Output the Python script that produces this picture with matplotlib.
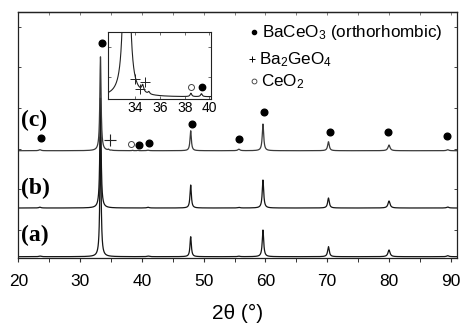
import numpy as np
import matplotlib
matplotlib.use("Agg")
import matplotlib.pyplot as plt

plt.rcParams['font.family'] = ['Liberation Sans', 'DejaVu Sans']
plt.rcParams['mathtext.default'] = 'regular'

# ---- data (peak positions in 2theta, intensities in arbitrary units) ----
peak_pos = [23.5, 33.3, 41.0, 47.9, 55.7, 59.6, 70.2, 80.0, 89.5]
peak_hwhm = [0.20, 0.12, 0.20, 0.13, 0.20, 0.14, 0.16, 0.20, 0.20]
heights_a = [0.6, 120.0, 0.6, 20.0, 0.5, 26.7, 10.0, 6.7, 1.0]
heights_b = [0.8, 110.0, 0.7, 23.0, 0.6, 28.0, 10.0, 7.0, 1.0]
heights_c = [1.0, 94.0, 0.5, 20.0, 1.5, 26.7, 9.0, 5.7, 1.0]
# minor impurity peaks seen only in (c)
imp_pos = [34.6, 35.1, 38.5, 39.35]
imp_hwhm = [0.10, 0.08, 0.08, 0.08]
imp_heights_c = [0.9, 0.3, 0.45, 0.4]
offsets = {'a': 1.3, 'b': 50.0, 'c': 107.3}

# phase markers on curve (c)
baceo3_x = [23.6, 33.6, 39.5, 41.2, 48.1, 55.8, 59.7, 70.4, 79.9, 89.4]
baceo3_y = [120.3, 215.3, 113.3, 115.3, 134.3, 119.3, 146.3, 126.3, 126.3, 122.3]
ba2geo4_x = [34.8]
ba2geo4_y = [118.0]
ceo2_x = [38.3]
ceo2_y = [114.0]
# inset markers
ins_plus_x = [33.96, 34.39, 34.77]
ins_plus_y = [109.7, 108.4, 109.3]
ins_ceo2_x = [38.49]
ins_ceo2_y = [108.6]
ins_baceo3_x = [39.42]
ins_baceo3_y = [108.6]


def pattern(x, pos, hw, hts):
    y = np.zeros_like(x)
    for p, g, h in zip(pos, hw, hts):
        y += h * g**2 / ((x - p)**2 + g**2)
    return y


x = np.linspace(20, 91, 8000)
ya = offsets['a'] + pattern(x, peak_pos, peak_hwhm, heights_a)
yb = offsets['b'] + pattern(x, peak_pos, peak_hwhm, heights_b)
yc = offsets['c'] + pattern(x, peak_pos, peak_hwhm, heights_c) + \
    pattern(x, imp_pos, imp_hwhm, imp_heights_c)

fig = plt.figure(figsize=(4.63, 3.26), dpi=100)
ax = fig.add_axes([0.0395, 0.2086, 0.9475, 0.7544])

ax.plot(x, ya, color='#151515', lw=0.9)
ax.plot(x, yb, color='#151515', lw=0.9)
ax.plot(x, yc, color='#3a3a3a', lw=0.9)

ax.plot(baceo3_x, baceo3_y, 'o', color='black', ms=4.8, ls='none')
ax.plot(ba2geo4_x, ba2geo4_y, '+', color='#222222', ms=8, mew=0.8, ls='none')
ax.plot(ceo2_x, ceo2_y, 'o', mfc='white', mec='#444444', ms=4.3, mew=0.7, ls='none')

ax.set_xlim(20, 91)
ax.set_ylim(0, 246)
ax.set_xticks(np.arange(20, 91, 10))
ax.set_xticks(np.arange(25, 91, 10), minor=True)
ax.set_yticks([28, 68.7, 109.4, 150.1, 190.8, 231.5])
ax.set_yticklabels([])
ax.tick_params(axis='x', which='major', direction='out', length=3.2, width=0.8,
               labelsize=12.5, pad=8, colors='#333333', labelcolor='black')
ax.tick_params(axis='x', which='minor', direction='out', length=2.6, width=0.7,
               colors='#333333')
ax.tick_params(axis='y', which='major', direction='in', length=2.2, width=0.7,
               left=True, right=True, colors='#444444')

top = ax.secondary_xaxis('top')
top.set_xticks(np.arange(20, 91, 10))
top.set_xticks(np.arange(25, 91, 10), minor=True)
top.set_xticklabels([])
top.tick_params(which='both', direction='in', length=1.8, width=0.6, colors='#666666')
top.spines['top'].set_linewidth(0.9)
top.spines['top'].set_color('#222222')

for s in ax.spines.values():
    s.set_linewidth(0.9)
    s.set_color('#222222')
ax.set_xlabel('2θ (°)', fontsize=15, labelpad=11)

for lab, yy in [('(c)', 137.3), ('(b)', 69.7), ('(a)', 23.0)]:
    ax.text(20.5, yy, lab, fontsize=17, fontweight='bold',
            family=['Liberation Serif', 'DejaVu Serif'], ha='left', va='center')

# legend-like annotations (axes fraction coordinates)
ax.plot([0.537], [0.917], 'o', color='black', ms=3.0, transform=ax.transAxes)
ax.text(0.555, 0.917, 'BaCeO$_3$ (orthorhombic)', transform=ax.transAxes,
        fontsize=12.3, va='center', ha='left')
ax.plot([0.533], [0.808], '+', color='black', ms=5, mew=0.7, transform=ax.transAxes)
ax.text(0.549, 0.808, 'Ba$_2$GeO$_4$', transform=ax.transAxes,
        fontsize=12.3, va='center', ha='left')
ax.plot([0.537], [0.718], 'o', mfc='white', mec='#333333', ms=3.5, mew=0.6,
        transform=ax.transAxes)
ax.text(0.553, 0.718, 'CeO$_2$', transform=ax.transAxes,
        fontsize=12.3, va='center', ha='left')

# inset
ins = fig.add_axes([0.2333, 0.6954, 0.2218, 0.2064])
ins.plot(x, yc, color='#222222', lw=0.8)
ins.plot(ins_plus_x, ins_plus_y, '+', color='#222222', ms=7, mew=0.7, ls='none')
ins.plot(ins_ceo2_x, ins_ceo2_y, 'o', mfc='white', mec='#444444', ms=4.3, mew=0.7, ls='none')
ins.plot(ins_baceo3_x, ins_baceo3_y, 'o', color='black', ms=4.6, ls='none')
ins.set_xlim(31.8, 40.1)
ins.set_ylim(107.0, 116.0)
ins.set_xticks([34, 36, 38, 40])
ins.set_yticks([110, 114])
ins.set_yticklabels([])
ins.tick_params(direction='in', length=2.2, width=0.6, top=True, right=True,
                labelsize=10, pad=1.5, colors='#555555', labelcolor='black')
for s in ins.spines.values():
    s.set_linewidth(0.8)
    s.set_color('#222222')

fig.savefig('out.png', dpi=100)
